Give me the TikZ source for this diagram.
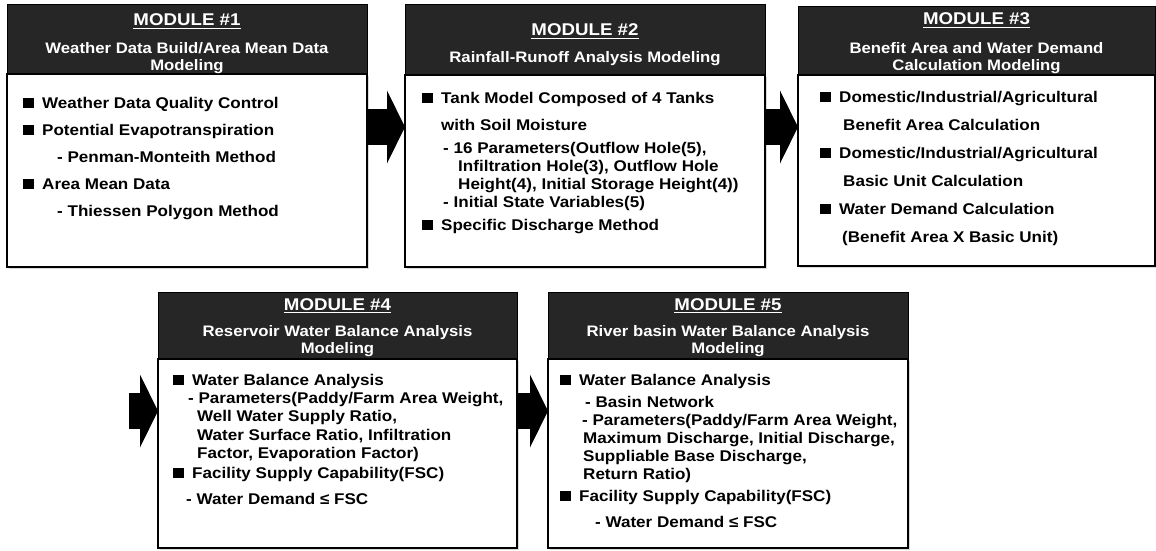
\documentclass[tikz,border=0pt]{standalone}
\usepackage{fontspec}
\newfontfamily\modfont{Liberation Sans}[FakeStretch=1.1]
\usetikzlibrary{arrows.meta}
\usetikzlibrary{calc}
\usetikzlibrary{positioning}
\usetikzlibrary{shadows}
\definecolor{headgray}{RGB}{38,38,38}
\newcommand\sqb{\rule{11pt}{10.5pt}\hspace{8pt}}
\newcommand\ulbox[1]{\setbox0\hbox{#1}\rlap{\rule[-3pt]{\wd0}{1.2pt}}\box0}
\tikzset{
  modhead/.style={draw=black, fill=headgray, line width=1pt, minimum width=360pt,
    anchor=north west, inner sep=0, outer sep=0},
  modbody/.style={draw=black, fill=white, line width=1.6pt, minimum width=360pt,
    anchor=north west, inner sep=0, outer sep=0,
    drop shadow={shadow xshift=2pt, shadow yshift=-2pt, opacity=0.3}},
  modtitle/.style={text=white, anchor=base, inner sep=0,
    font=\modfont\bfseries\fontsize{17}{20}\selectfont},
  modsub/.style={text=white, anchor=north, align=center, inner sep=0,
    font=\modfont\bfseries\fontsize{15.2}{17}\selectfont},
  modtext/.style={anchor=north west, align=left, inner sep=0,
    font=\modfont\bfseries\fontsize{15.5}{18}\selectfont},
  flowarrow/.style={line width=36pt, -{Triangle[length=18pt, width=73pt, line width=0pt]}}
}
\begin{document}
\begin{tikzpicture}[x=1pt, y=-1pt]
  \useasboundingbox (0,0) rectangle (1156,551);

  % module 1
  \node[modhead, minimum height=69pt] (h1) at (7,5) {};
  \node[modbody, minimum height=193pt] (b1) at (h1.south west) {};
  \node[modtitle] (t1) at ([yshift=-21pt]h1.north) {\ulbox{MODULE \#1}};
  \node[modsub] (s1) at ([yshift=-37pt]h1.north) {Weather Data Build/Area Mean Data\\Modeling};
  \node[modtext] (l1) at ([xshift=16pt, yshift=-23pt]b1.north west) {%
    \sqb Weather Data Quality Control\\[9pt]
    \sqb Potential Evapotranspiration\\[9pt]
    \hspace*{34pt}- Penman-Monteith Method\\[9pt]
    \sqb Area Mean Data\\[9pt]
    \hspace*{34pt}- Thiessen Polygon Method};

  % module 2
  \node[modhead, minimum height=70pt] (h2) at (405,5) {};
  \node[modbody, minimum height=192pt] (b2) at (h2.south west) {};
  \node[modtitle] (t2) at ([yshift=-31pt]h2.north) {\ulbox{MODULE \#2}};
  \node[modsub] (s2) at ([yshift=-46pt]h2.north) {Rainfall-Runoff Analysis Modeling};
  \node[modtext] (l2) at ([xshift=17pt, yshift=-17pt]b2.north west) {%
    \sqb Tank Model Composed of 4 Tanks\\[9pt]
    \hspace*{19pt}with Soil Moisture\\[5pt]
    \hspace*{21pt}- 16 Parameters(Outflow Hole(5),\\
    \hspace*{36pt}Infiltration Hole(3), Outflow Hole\\
    \hspace*{36pt}Height(4), Initial Storage Height(4))\\
    \hspace*{21pt}- Initial State Variables(5)\\[5pt]
    \sqb Specific Discharge Method};

  % module 3
  \node[modhead, minimum width=357pt, minimum height=68pt] (h3) at (798,7) {};
  \node[modbody, minimum width=357pt, minimum height=191pt] (b3) at (h3.south west) {};
  \node[modtitle] (t3) at ([yshift=-18pt]h3.north) {\ulbox{MODULE \#3}};
  \node[modsub] (s3) at ([yshift=-35pt]h3.north) {Benefit Area and Water Demand\\Calculation Modeling};
  \node[modtext] (l3) at ([xshift=22pt, yshift=-16pt]b3.north west) {%
    \sqb Domestic/Industrial/Agricultural\\[10pt]
    \hspace*{23pt}Benefit Area Calculation\\[10pt]
    \sqb Domestic/Industrial/Agricultural\\[10pt]
    \hspace*{23pt}Basic Unit Calculation\\[10pt]
    \sqb Water Demand Calculation\\[10pt]
    \hspace*{22pt}(Benefit Area X Basic Unit)};

  % module 4
  \node[modhead, minimum width=359pt, minimum height=67pt] (h4) at (158,292) {};
  \node[modbody, minimum width=359pt, minimum height=189pt] (b4) at (h4.south west) {};
  \node[modtitle] (t4) at ([yshift=-18pt]h4.north) {\ulbox{MODULE \#4}};
  \node[modsub] (s4) at ([yshift=-33pt]h4.north) {Reservoir Water Balance Analysis\\Modeling};
  \node[modtext] (l4) at ([xshift=15pt, yshift=-15pt]b4.north west) {%
    \sqb Water Balance Analysis\\
    \hspace*{15pt}- Parameters(Paddy/Farm Area Weight,\\
    \hspace*{24pt}Well Water Supply Ratio,\\[1pt]
    \hspace*{24pt}Water Surface Ratio, Infiltration\\
    \hspace*{24pt}Factor, Evaporation Factor)\\[2pt]
    \sqb Facility Supply Capability(FSC)\\[8pt]
    \hspace*{13pt}- Water Demand ≤ FSC};

  % module 5
  \node[modhead, minimum height=67pt] (h5) at (548,292) {};
  \node[modbody, minimum height=189pt] (b5) at (h5.south west) {};
  \node[modtitle] (t5) at ([yshift=-18pt]h5.north) {\ulbox{MODULE \#5}};
  \node[modsub] (s5) at ([yshift=-33pt]h5.north) {River basin Water Balance Analysis\\Modeling};
  \node[modtext] (l5) at ([xshift=12pt, yshift=-15pt]b5.north west) {%
    \sqb Water Balance Analysis\\[4pt]
    \hspace*{25pt}- Basin Network\\
    \hspace*{22pt}- Parameters(Paddy/Farm Area Weight,\\
    \hspace*{23pt}Maximum Discharge, Initial Discharge,\\
    \hspace*{23pt}Suppliable Base Discharge,\\
    \hspace*{23pt}Return Ratio)\\[4pt]
    \sqb Facility Supply Capability(FSC)\\[8pt]
    \hspace*{35pt}- Water Demand ≤ FSC};

  % arrows
  \coordinate (row1) at (0,127);
  \coordinate (row2) at (129,411);
  \draw[flowarrow] (b1.east |- row1) -- (b2.west |- row1);
  \draw[flowarrow] (b2.east |- row1) -- (b3.west |- row1);
  \draw[flowarrow] (row2) -- (b4.west |- row2);
  \draw[flowarrow] (b4.east |- row2) -- (b5.west |- row2);
\end{tikzpicture}
\end{document}
